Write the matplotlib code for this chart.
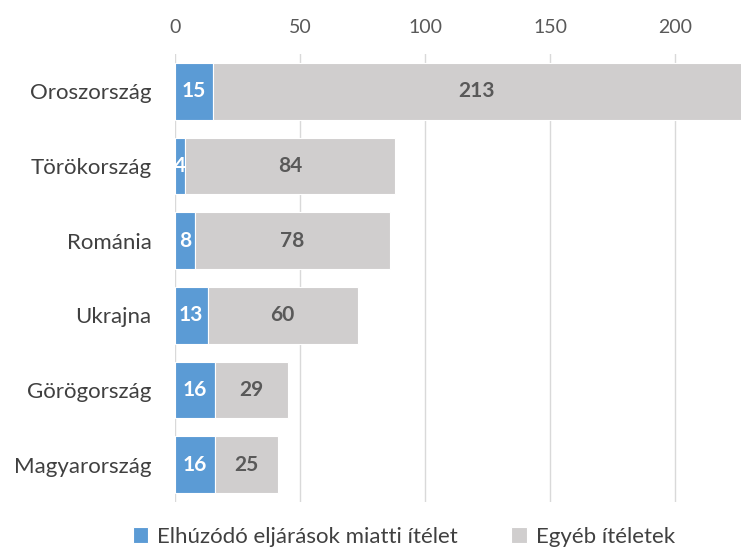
import numpy as np
import matplotlib.pyplot as plt

plt.rcParams['font.family'] = ['Lato', 'DejaVu Sans']

countries = ['Oroszország', 'Törökország', 'Románia', 'Ukrajna', 'Görögország', 'Magyarország']
delayed = [15, 4, 8, 13, 16, 16]
other = [213, 84, 78, 60, 29, 25]
series_names = ['Elhúzódó eljárások miatti ítélet', 'Egyéb ítéletek']

blue = '#5B9BD5'
grey = '#D0CECE'
txt = '#595959'

fig = plt.figure(figsize=(7.41, 5.5), dpi=100)
ax = fig.add_axes([175/741, 1 - 502/550, 1 - 175/741, 448/550])

y = np.arange(len(countries))
b1 = ax.barh(y, delayed, height=0.76, color=blue, edgecolor='white', linewidth=0.8,
             label=series_names[0], zorder=3)
b2 = ax.barh(y, other, left=delayed, height=0.76, color=grey, edgecolor='white', linewidth=0.8,
             label=series_names[1], zorder=3)

ax.bar_label(b1, labels=[str(v) for v in delayed], label_type='center',
             color='white', fontsize=15, fontweight='bold', clip_on=True)
ax.bar_label(b2, labels=[str(v) for v in other], label_type='center',
             color=txt, fontsize=15, fontweight='bold')

ax.set_xlim(0, 226.4)
ax.set_ylim(len(countries) - 0.5, -0.5)
ax.set_yticks(y)
ax.set_yticklabels(countries, fontsize=16, color='#404040')
ax.set_xticks([0, 50, 100, 150, 200])
ax.xaxis.tick_top()
ax.tick_params(axis='x', labelsize=14, colors=txt, length=0, pad=13)
ax.tick_params(axis='y', length=0, pad=17)
ax.grid(axis='x', color='#D9D9D9', linewidth=1, zorder=0)
for s in ax.spines.values():
    s.set_visible(False)

fig.legend(handles=[b1, b2], labels=series_names, loc='center',
           bbox_to_anchor=(0.545, 1 - 537/550), ncol=2, frameon=False, fontsize=16,
           handlelength=0.7, handleheight=0.7, handletextpad=0.4, columnspacing=2.4,
           labelcolor='#404040')

fig.savefig('out.png', dpi=100)
